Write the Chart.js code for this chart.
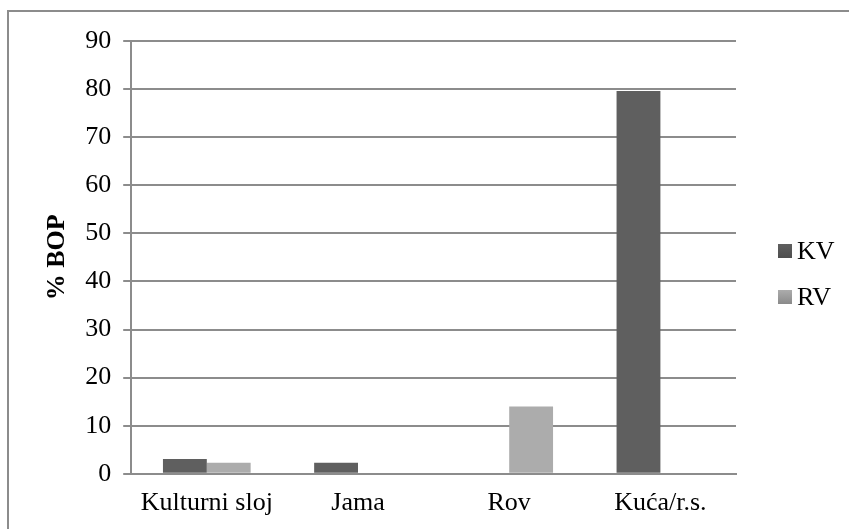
<!DOCTYPE html>
<html lang="hr">
<head>
  <meta charset="UTF-8">
  <title>% BOP</title>
  <script src="https://cdn.jsdelivr.net/npm/chart.js"></script>
  <style>
    body {
      margin: 0;
      background: #ffffff;
    }
    .frame {
      position: absolute;
      left: 7px;
      top: 10px;
      width: 849px;
      height: 529px;
      border-left: 2px solid #8c8c8c;
      border-top: 2px solid #8c8c8c;
    }
    .wrap {
      position: absolute;
      left: 0;
      top: 0;
      width: 849px;
      height: 529px;
    }
  </style>
</head>
<body>
  <div class="frame"></div>
  <div class="wrap">
    <canvas id="bopChart" width="849" height="529"></canvas>
  </div>

  <script>
    const categories = ["Kulturni sloj", "Jama", "Rov", "Kuća/r.s."];
    const kvValues = [3.1, 2.3, 0, 79.6];
    const rvValues = [2.3, 0, 14.0, 0];
    const yTicks = [0, 10, 20, 30, 40, 50, 60, 70, 80, 90];

    const kvColors = ["#5f5f5f", "#4e4e4e"];
    const rvColors = ["#acacac", "#8a8a8a"];

    // each bar gets its own top-to-bottom gradient
    function barFill(colors) {
      return function (ctx) {
        const el = ctx.element;
        const chart = ctx.chart;
        if (!el || !chart.chartArea) return colors[0];
        const y0 = el.y, y1 = el.base;
        if (!isFinite(y0) || !isFinite(y1) || y0 === y1) return colors[0];
        const g = chart.ctx.createLinearGradient(0, y0, 0, y1);
        g.addColorStop(0, colors[0]);
        g.addColorStop(1, colors[1]);
        return g;
      };
    }

    const fontFamily = "'Liberation Serif', 'Times New Roman', serif";
    const font = { family: fontFamily, size: 26 };

    // legend at the right, Excel style: small square, then text close to it
    const sideLegend = {
      id: "sideLegend",
      afterDraw(chart) {
        const c = chart.ctx;
        const area = chart.chartArea;
        const x = area.right + 42;
        const rows = [251, 297];
        c.save();
        c.font = "26px " + fontFamily;
        c.textBaseline = "middle";
        c.fillStyle = "#000000";
        chart.data.datasets.forEach((ds, i) => {
          const y = rows[i];
          const cols = i === 0 ? kvColors : rvColors;
          const g = c.createLinearGradient(0, y - 7, 0, y + 7);
          g.addColorStop(0, cols[0]);
          g.addColorStop(1, cols[1]);
          c.fillStyle = g;
          c.fillRect(x, y - 7, 14, 14);
          c.fillStyle = "#000000";
          c.fillText(ds.label, x + 19, y + 1);
        });
        c.restore();
      }
    };

    new Chart(document.getElementById("bopChart"), {
      type: "bar",
      data: {
        labels: categories,
        datasets: [
          {
            label: "KV",
            data: kvValues,
            backgroundColor: barFill(kvColors),
            borderWidth: 0
          },
          {
            label: "RV",
            data: rvValues,
            backgroundColor: barFill(rvColors),
            borderWidth: 0
          }
        ]
      },
      options: {
        responsive: false,
        animation: false,
        layout: { padding: { top: 41, right: 113, bottom: 4, left: 42 } },
        datasets: {
          bar: { categoryPercentage: 0.58, barPercentage: 1.0 }
        },
        plugins: {
          tooltip: { enabled: false },
          legend: { display: false }
        },
        scales: {
          x: {
            grid: { display: false },
            border: { display: true, color: "#8c8c8c", width: 2 },
            ticks: { font: font, color: "#000000", padding: 6 }
          },
          y: {
            min: 0,
            max: 90,
            afterBuildTicks(axis) {
              axis.ticks = yTicks.map(v => ({ value: v }));
            },
            grid: { color: "#8c8c8c", lineWidth: 2, tickLength: 8 },
            border: { display: true, color: "#8c8c8c", width: 2 },
            ticks: { font: font, color: "#000000", padding: 12 },
            title: {
              display: true,
              text: "% BOP",
              font: { family: fontFamily, size: 26, weight: "bold" },
              color: "#000000",
              padding: { top: 0, bottom: 0 }
            }
          }
        }
      },
      plugins: [sideLegend]
    });
  </script>
</body>
</html>
